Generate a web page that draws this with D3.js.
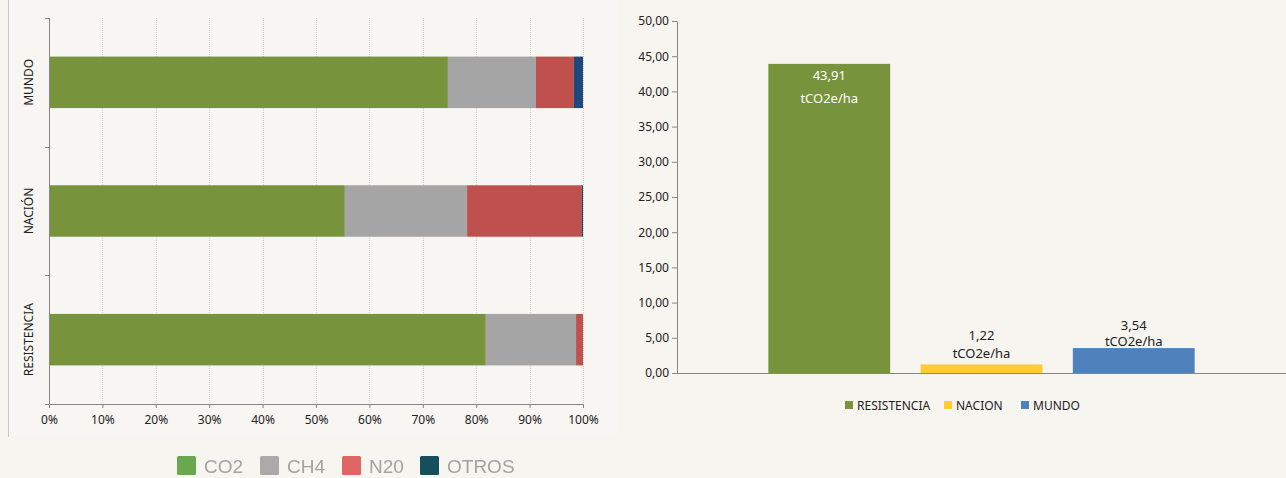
<!DOCTYPE html>
<html>
<head>
<meta charset="utf-8">
<script src="https://cdn.jsdelivr.net/npm/d3@7"></script>
<style>
  html, body { margin: 0; padding: 0; background: #f6f5f0; }
  svg { display: block; font-family: "Noto Sans", sans-serif; }
</style>
</head>
<body>
<svg width="1286" height="478"></svg>
<script>
// left chart: share of each gas by territory (%)
const regions = ['MUNDO', 'NACIÓN', 'RESISTENCIA'];
const gases = ['CO2', 'CH4', 'N20', 'OTROS'];
const co2 = [74.7, 55.4, 81.8];
const ch4 = [16.5, 22.9, 16.9];
const n2o = [7.1, 21.5, 1.3];
const otros = [1.7, 0.2, 0.0];
const pctTicks = [0, 10, 20, 30, 40, 50, 60, 70, 80, 90, 100];

// right chart: emissions per hectare
const places = ['RESISTENCIA', 'NACION', 'MUNDO'];
const perHa = [43.91, 1.22, 3.54];
const haTicks = [0, 5, 10, 15, 20, 25, 30, 35, 40, 45, 50];

const gasColors = ['#77933c', '#a5a5a5', '#c0504d', '#1f497d'];
const legendColors = ['#6aa84f', '#aaaaaa', '#e06666', '#134f5c'];
const placeColors = ['#77933c', '#ffcc33', '#4f81bd'];

const svg = d3.select('svg');
const comma = v => d3.format('.2f')(v).replace('.', ',');

// ---- left panel ----
svg.append('rect').attr('x', 8).attr('y', 0).attr('width', 610).attr('height', 437).attr('fill', '#f7f6f2');
svg.append('line').attr('x1', 8.5).attr('x2', 8.5).attr('y1', 0).attr('y2', 437).attr('stroke', '#c9c9c9');

const x = d3.scaleLinear().domain([0, 100]).range([49, 583]);
const y = d3.scaleBand().domain(regions).range([18, 404]).paddingInner(0.6).paddingOuter(0.3);

const left = svg.append('g');

left.selectAll('.grid').data(pctTicks.slice(1)).enter().append('line')
  .attr('x1', d => Math.round(x(d)) + 0.5).attr('x2', d => Math.round(x(d)) + 0.5)
  .attr('y1', 18).attr('y2', 404)
  .attr('stroke', '#cfcfcf').attr('stroke-dasharray', '1,1');

const rows = regions.map((r, i) => ({ region: r, CO2: co2[i], CH4: ch4[i], N20: n2o[i], OTROS: otros[i] }));
const stacked = d3.stack().keys(gases)(rows);

left.selectAll('.layer').data(stacked).enter().append('g')
  .attr('fill', (d, i) => gasColors[i])
  .selectAll('rect').data(d => d).enter().append('rect')
  .attr('x', d => x(d[0]))
  .attr('width', d => Math.max(0, x(d[1]) - x(d[0])))
  .attr('y', d => y(d.data.region))
  .attr('height', y.bandwidth());

const xAxis = left.append('g').attr('transform', 'translate(0,404)')
  .call(d3.axisBottom(x).tickValues(pctTicks).tickFormat(d => d + '%').tickSize(4).tickSizeOuter(0));
xAxis.select('.domain').attr('stroke', '#868686');
xAxis.selectAll('line').attr('stroke', '#868686');
xAxis.selectAll('text').attr('font-size', 12).attr('fill', '#222').attr('dy', '1.1em').attr('font-family', '"Noto Sans", sans-serif');

// left axis with boundary ticks between categories
const bounds = [18, 18 + 386 / 3, 18 + 2 * 386 / 3, 404];
left.append('line').attr('x1', 49.5).attr('x2', 49.5).attr('y1', 18).attr('y2', 404).attr('stroke', '#868686');
left.selectAll('.bt').data(bounds).enter().append('line')
  .attr('x1', 45).attr('x2', 49.5).attr('y1', d => Math.round(d) + 0.5).attr('y2', d => Math.round(d) + 0.5)
  .attr('stroke', '#868686');
left.selectAll('.rl').data(regions).enter().append('text')
  .attr('transform', d => `translate(33,${y(d) + y.bandwidth() / 2}) rotate(-90)`)
  .attr('text-anchor', 'middle').attr('font-size', 12).attr('fill', '#222')
  .text(d => d);

// blurry legend under left chart
const blur = svg.append('defs').append('filter').attr('id', 'soft');
blur.append('feGaussianBlur').attr('stdDeviation', 0.7);
const legL = svg.append('g').attr('filter', 'url(#soft)');
const legX = [177, 260, 342, 420];
gases.forEach((g, i) => {
  legL.append('rect').attr('x', legX[i]).attr('y', 456).attr('width', 19).attr('height', 19).attr('rx', 1.5)
    .attr('fill', legendColors[i]);
  legL.append('text').attr('x', legX[i] + 27).attr('y', 473)
    .attr('font-family', '"Liberation Sans", Arial, sans-serif').attr('font-size', 19).attr('fill', '#a3a3a3')
    .text(g);
});

// ---- right panel ----
const yr = d3.scaleLinear().domain([0, 50]).range([373, 21]);
const xr = d3.scaleBand().domain(places).range([677, 1286]).paddingInner(0.2).paddingOuter(0.6);
const right = svg.append('g');

const yAxis = right.append('g').attr('transform', 'translate(677,0)')
  .call(d3.axisLeft(yr).tickValues(haTicks).tickFormat(comma).tickSize(5).tickSizeOuter(0));
yAxis.select('.domain').attr('stroke', '#868686');
yAxis.selectAll('line').attr('stroke', '#868686');
yAxis.selectAll('text').attr('font-size', 12).attr('fill', '#222').attr('font-family', '"Noto Sans", sans-serif');

right.selectAll('.bar').data(places).enter().append('rect')
  .attr('x', d => xr(d)).attr('width', xr.bandwidth())
  .attr('y', (d, i) => yr(perHa[i])).attr('height', (d, i) => yr(0) - yr(perHa[i]))
  .attr('fill', (d, i) => placeColors[i]);

right.append('line').attr('x1', 677).attr('x2', 1286).attr('y1', 373.5).attr('y2', 373.5).attr('stroke', '#868686');

// value labels: inside the tall bar, above the short ones
const inside = [true, false, false];
const lift = [-16, 24, 18];     // baseline offset of the value above the bar top
const unitGap = [23, 18, 16];
places.forEach((p, i) => {
  const cx = xr(p) + xr.bandwidth() / 2;
  const ty = yr(perHa[i]) - lift[i];
  const col = inside[i] ? '#fff' : '#222';
  right.append('text').attr('x', cx).attr('y', ty).attr('text-anchor', 'middle')
    .attr('font-size', 13).attr('fill', col).text(comma(perHa[i]));
  right.append('text').attr('x', cx).attr('y', ty + unitGap[i]).attr('text-anchor', 'middle')
    .attr('font-size', 13).attr('fill', col).text('tCO2e/ha');
});

// right legend
const legR = right.append('g');
const legRX = [845, 944, 1021];
places.forEach((p, i) => {
  legR.append('rect').attr('x', legRX[i]).attr('y', 401).attr('width', 8).attr('height', 8).attr('fill', placeColors[i]);
  legR.append('text').attr('x', legRX[i] + 12).attr('y', 410).attr('font-size', 12).attr('fill', '#222').text(p);
});
</script>
</body>
</html>
